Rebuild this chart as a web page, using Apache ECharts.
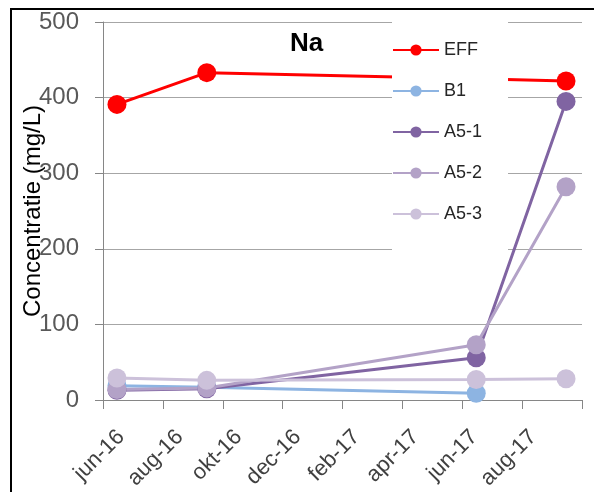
<!DOCTYPE html>
<html>
<head>
<meta charset="utf-8">
<script src="https://cdn.jsdelivr.net/npm/echarts@6/dist/echarts.min.js"></script>
<style>
html,body{margin:0;padding:0;background:#fff;}
#chart{width:594px;height:492px;}
</style>
</head>
<body>
<div id="chart"></div>
<script>
// ---- data ----
const sampleDates = ['2016-06-15', '2016-09-15', '2017-06-15', '2017-09-15'];
const EFF   = [391, 433, 425, 422];
const B1    = [19, 17, 9, null];
const A5_1  = [13, 15, 56, 395];
const A5_2  = [14, 16, 73, 282];
const A5_3  = [29, 26, 27, 28];
const seriesNames = ['EFF', 'B1', 'A5-1', 'A5-2', 'A5-3'];
const xTickLabels = ['jun-16', 'aug-16', 'okt-16', 'dec-16', 'feb-17', 'apr-17', 'jun-17', 'aug-17'];
const yTicks = [0, 100, 200, 300, 400, 500];
const axisStartYear = 2016, axisStartMonth = 6; // jun-16
const axisMonths = 16; // jun-16 .. okt-17

// month offset from axis start (fractional)
function monthOffset(s) {
  const p = s.split('-').map(Number);
  const dim = new Date(Date.UTC(p[0], p[1], 0)).getUTCDate();
  return (p[0] - axisStartYear) * 12 + (p[1] - axisStartMonth) + (p[2] - 1) / dim;
}
const xs = sampleDates.map(monthOffset);
function pairs(vals) {
  const out = [];
  vals.forEach((v, i) => { if (v !== null) out.push([xs[i], v]); });
  return out;
}

const colors = ['#FF0000', '#8DB4E2', '#8064A2', '#B3A2C7', '#CCC1DA'];
const values = [EFF, B1, A5_1, A5_2, A5_3];
const FONT = '"Liberation Sans", Arial, sans-serif';

const chart = echarts.init(document.getElementById('chart'), null, {renderer: 'canvas'});
chart.setOption({
  animation: false,
  backgroundColor: '#fff',
  color: colors,
  title: {
    text: 'Na', left: 290, top: 31, padding: 0,
    textStyle: {fontFamily: FONT, fontSize: 26, fontWeight: 'bold', color: '#000'}
  },
  legend: {
    orient: 'vertical', left: 392, top: 21,
    backgroundColor: '#fff',
    padding: [20, 26, 34, 0],
    itemWidth: 46, itemHeight: 14, itemGap: 23,
    data: seriesNames,
    textStyle: {fontFamily: FONT, fontSize: 18, color: '#262626'}
  },
  grid: [
    {left: 103, right: 12, top: 22, bottom: 92},
    {left: 121, width: 479, top: 22, bottom: 92}
  ],
  xAxis: [
    {
      type: 'value', gridIndex: 0, min: 0, max: axisMonths, interval: 2,
      axisLine: {show: true, onZero: false, lineStyle: {color: '#868686', width: 1}},
      axisTick: {show: true, inside: false, length: 9, lineStyle: {color: '#868686'}},
      axisLabel: {show: false},
      splitLine: {show: false}
    },
    {
      type: 'category', gridIndex: 1, boundaryGap: false,
      data: xTickLabels.concat(['']),
      axisLine: {show: false}, axisTick: {show: false}, splitLine: {show: false},
      axisLabel: {
        interval: 0, rotate: 45, margin: 38,
        fontFamily: FONT, fontSize: 22, color: '#404040'
      }
    }
  ],
  yAxis: [
    {
      type: 'value', gridIndex: 0, min: yTicks[0], max: yTicks[yTicks.length - 1], interval: 100,
      name: 'Concentratie (mg/L)', nameLocation: 'middle', nameGap: 58, nameRotate: 90,
      nameMoveOverlap: false,
      nameTextStyle: {fontFamily: FONT, fontSize: 24, color: '#000'},
      axisLine: {show: true, lineStyle: {color: '#868686', width: 1}},
      axisTick: {show: true, inside: false, length: 8, lineStyle: {color: '#868686'}},
      axisLabel: {margin: 24, fontFamily: FONT, fontSize: 24, color: '#595959'},
      splitLine: {show: true, lineStyle: {color: '#A6A6A6', width: 1}}
    },
    {type: 'value', gridIndex: 1, show: false, min: 0, max: 500}
  ],
  series: seriesNames.map((n, i) => ({
    name: n, type: 'line', xAxisIndex: 0, yAxisIndex: 0,
    data: pairs(values[i]),
    symbol: 'circle', symbolSize: 19,
    lineStyle: {width: 3, color: colors[i]},
    itemStyle: {color: colors[i]},
    emphasis: {disabled: true}
  })),
  graphic: [{
    type: 'rect', silent: true, z: 100,
    shape: {x: 11, y: 9, width: 620, height: 520},
    style: {fill: null, stroke: '#000', lineWidth: 2}
  }]
});
</script>
</body>
</html>
